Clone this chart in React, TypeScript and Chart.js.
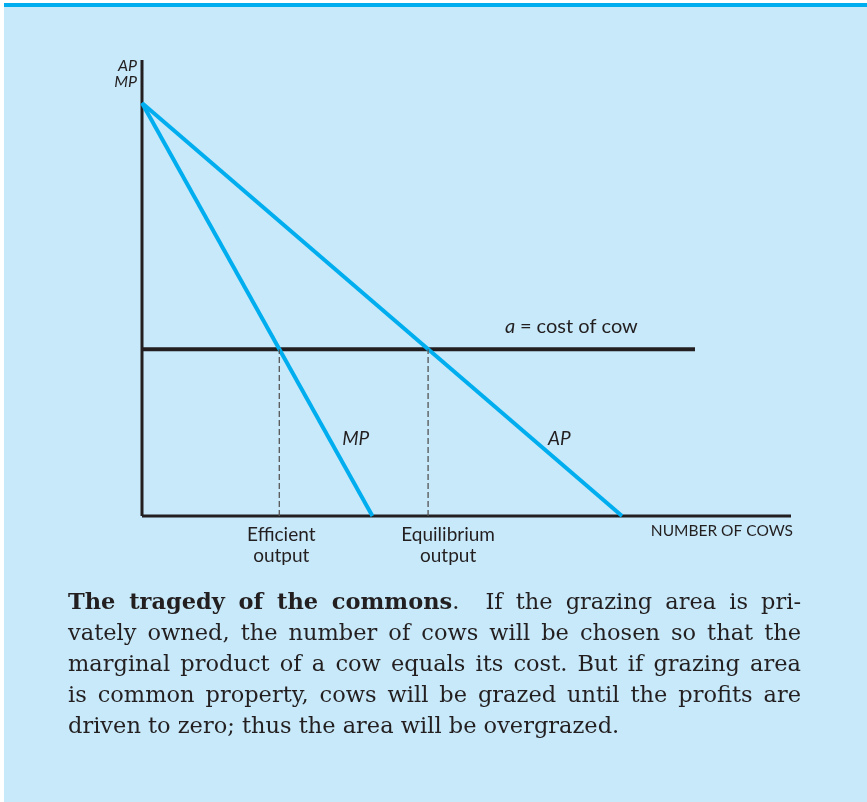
import React, { useEffect, useRef } from "react";
import { Chart, registerables } from "chart.js";

Chart.register(...registerables);

// ---- data (arbitrary economic units) ----
const xMax = 13.52; // extent of the "number of cows" axis
const yMax = 11.04; // extent of the AP/MP axis
const apX = [0, 10];
const apY = [10, 0];
const mpX = [0, 4.8];
const mpY = [10, 0];
const costX = [0, 11.52];
const costY = [4.04, 4.04];
const efficientOutput = 2.86;
const equilibriumOutput = 5.96;
const outputLabels = [
  ["Efficient", "output"],
  ["Equilibrium", "output"],
];
const captionLines = [
  "vately owned, the number of cows will be chosen so that the",
  "marginal product of a cow equals its cost. But if grazing area",
  "is common property, cows will be grazed until the profits are",
  "driven to zero; thus the area will be overgrazed.",
];

const BLUE = "rgb(0,174,239)";
const INK = "#231f20";
const BG = "rgb(199,233,249)";

const pts = (xs: number[], ys: number[]) => xs.map((x, i) => ({ x, y: ys[i] }));

const labelPlugin = {
  id: "labels",
  afterDatasetsDraw(chart: any) {
    const { ctx, scales } = chart;
    const xs = scales.x;
    const ys = scales.y;
    const X = (v: number) => xs.getPixelForValue(v);
    const Y = (v: number) => ys.getPixelForValue(v);
    ctx.save();
    ctx.fillStyle = INK;
    ctx.textBaseline = "alphabetic";
    // axis label
    ctx.font = "italic 16px Lato";
    ctx.textAlign = "right";
    ctx.fillText("AP", X(0) - 5, Y(yMax) + 11);
    ctx.fillText("MP", X(0) - 5, Y(yMax) + 27);
    // cost label
    ctx.textAlign = "left";
    const cy = Y(costY[0]) - 16;
    ctx.font = "italic 20px Lato";
    ctx.fillText("a", 505, cy);
    const aw = ctx.measureText("a ").width;
    ctx.font = "20px Lato";
    ctx.fillText("= cost of cow", 505 + aw, cy);
    // curve labels
    ctx.font = "italic 19px Lato";
    ctx.fillText("MP", X(4.17), Y(1.72));
    ctx.fillText("AP", X(8.46), Y(1.72));
    // output labels
    ctx.font = "19px Lato";
    ctx.textAlign = "center";
    const y0 = Y(0);
    const outs = [efficientOutput, equilibriumOutput];
    outs.forEach((v, i) => {
      const dx = i === 0 ? 2 : 20;
      ctx.fillText(outputLabels[i][0], X(v) + dx, y0 + 25);
      ctx.fillText(outputLabels[i][1], X(v) + dx, y0 + 46);
    });
    // x axis title
    ctx.font = "15.5px Lato";
    ctx.textAlign = "right";
    ctx.fillText("NUMBER OF COWS", X(xMax) + 2, y0 + 20);
    ctx.restore();
  },
};

function ChartView() {
  const ref = useRef<HTMLCanvasElement>(null);
  useEffect(() => {
    if (!ref.current) return;
    const ds = (data: any[], color: string, width: number, dash: number[] = []) => ({
      data,
      borderColor: color,
      borderWidth: width,
      borderDash: dash,
      pointRadius: 0,
      fill: false,
      tension: 0,
      clip: false as any,
      borderCapStyle: "butt" as const,
    });
    const chart = new Chart(ref.current, {
      type: "line",
      data: {
        datasets: [
          ds(pts([efficientOutput, efficientOutput], [0, costY[0]]), "#555", 1.3, [6, 3]),
          ds(pts([equilibriumOutput, equilibriumOutput], [0, costY[0]]), "#555", 1.3, [6, 3]),
          ds(pts(mpX, mpY), BLUE, 4),
          ds(pts(apX, apY), BLUE, 4),
          ds(pts(costX, costY), INK, 4),
          ds(pts([0, 0], [0, yMax]), INK, 3),
          ds(pts([0, xMax], [0, 0]), INK, 3),
        ],
      },
      options: {
        animation: false,
        responsive: false,
        maintainAspectRatio: false,
        layout: { padding: { left: 142, right: 76, top: 60, bottom: 286 } },
        plugins: { legend: { display: false }, tooltip: { enabled: false } },
        scales: {
          x: { type: "linear", min: 0, max: xMax, display: false },
          y: { type: "linear", min: 0, max: yMax, display: false },
        },
      },
      plugins: [labelPlugin],
    });
    return () => chart.destroy();
  }, []);
  return (
    <canvas
      ref={ref}
      width={867}
      height={802}
      style={{ position: "absolute", left: 0, top: 0, width: 867, height: 802 }}
    />
  );
}

export default function App() {
  useEffect(() => {
    document.body.style.margin = "0";
  }, []);
  const lineStyle: React.CSSProperties = {
    textAlign: "justify",
    textAlignLast: "justify" as any,
    whiteSpace: "nowrap",
    height: 31,
    lineHeight: "31px",
  };
  return (
    <div style={{ position: "relative", width: 867, height: 802, background: "#fff", overflow: "hidden" }}>
      <div
        style={{
          position: "absolute",
          left: 4,
          top: 3,
          width: 863,
          height: 799,
          background: BG,
          borderTop: `4px solid ${BLUE}`,
          boxSizing: "border-box",
        }}
      />
      <ChartView />
      <div
        style={{
          position: "absolute",
          left: 68,
          top: 586,
          width: 733,
          fontFamily: "'DejaVu Serif', serif",
          fontSize: 22.5,
          color: INK,
        }}
      >
        <div style={lineStyle}>
          <b>The tragedy of the commons</b>.&nbsp; If the grazing area is pri-
        </div>
        {captionLines.map((l, i) => (
          <div
            key={i}
            style={i === captionLines.length - 1 ? { ...lineStyle, textAlignLast: "left" as any } : lineStyle}
          >
            {l}
          </div>
        ))}
      </div>
    </div>
  );
}
